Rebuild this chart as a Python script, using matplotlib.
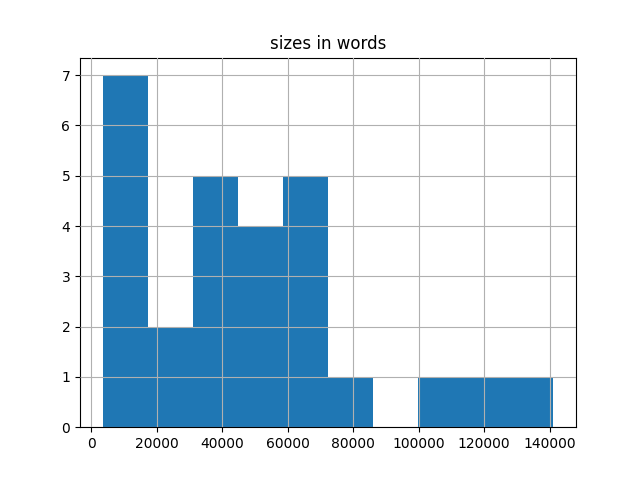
import numpy as np
import matplotlib
matplotlib.use("Agg")
import matplotlib.pyplot as plt

# histogram of document sizes (10 bins)
size_min = 3400
size_max = 141200
counts = [7, 2, 5, 4, 5, 1, 0, 1, 1, 1]

edges = np.linspace(size_min, size_max, len(counts) + 1)
centers = (edges[:-1] + edges[1:]) / 2

fig, ax = plt.subplots(figsize=(6.4, 4.8), dpi=100)
ax.hist(centers, bins=edges, weights=counts, color="C0")
ax.grid(True)
ax.set_axisbelow(False)
ax.set_title("sizes in words")

fig.savefig("out.png")
